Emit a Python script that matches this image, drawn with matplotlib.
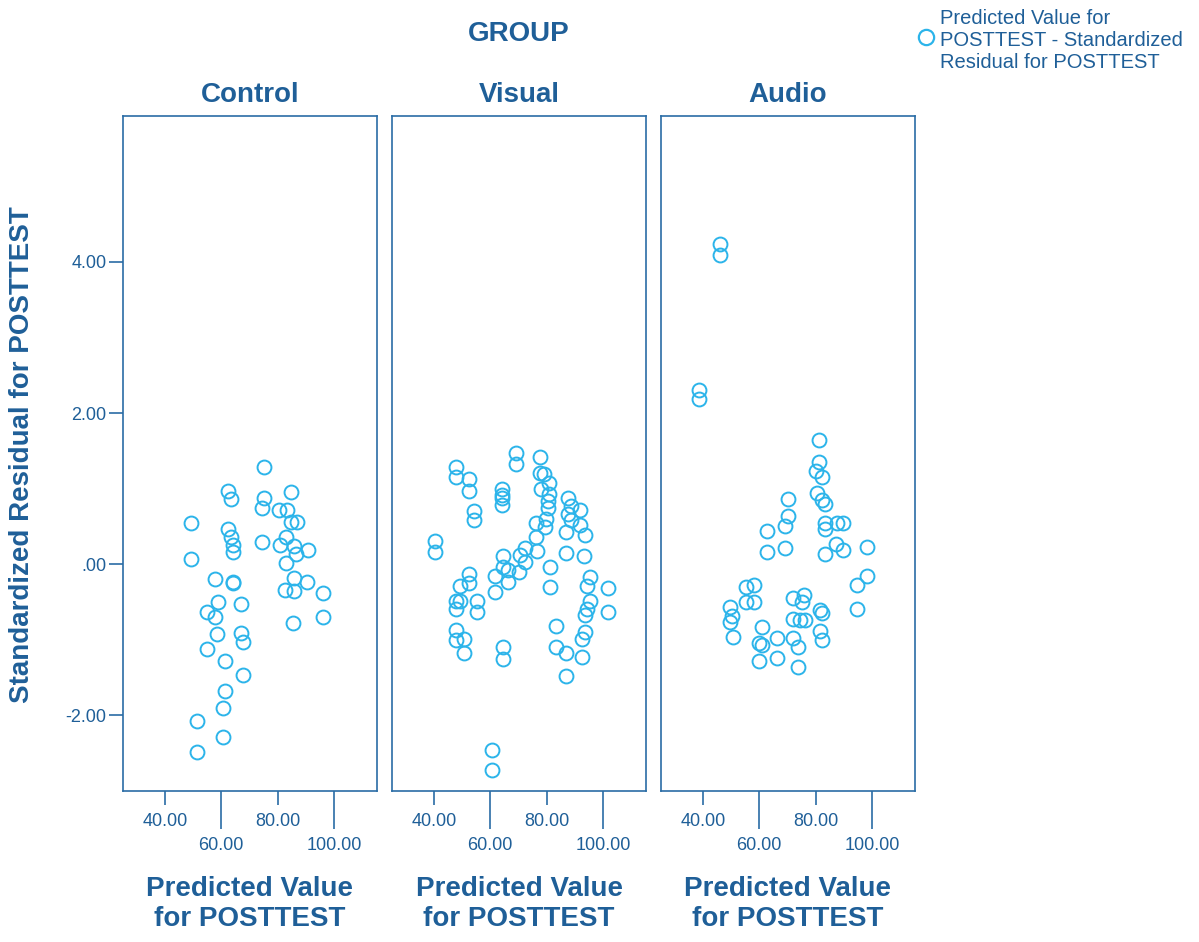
import matplotlib
matplotlib.use("Agg")
import matplotlib.pyplot as plt
from matplotlib.lines import Line2D

# predicted value / standardized residual pairs for each group
groups = ["Control", "Visual", "Audio"]

control_x = [75.2, 62.3, 63.4, 75.3, 74.3, 84.6, 80.6, 83.2, 84.6, 87.0,
             49.2, 62.3, 63.4, 64.3, 64.3, 74.3, 83.0, 80.8, 85.8, 86.7,
             90.7, 49.2, 82.9, 57.8, 64.3, 64.3, 85.8, 90.6, 82.6, 85.8,
             96.0, 58.7, 54.8, 57.9, 67.0, 96.0, 85.6, 58.6, 67.0, 67.8,
             54.8, 61.3, 67.8, 61.3, 60.5, 51.3, 60.5, 51.3]
control_y = [1.28, 0.97, 0.86, 0.87, 0.75, 0.95, 0.72, 0.72, 0.56, 0.56,
             0.55, 0.46, 0.36, 0.25, 0.16, 0.29, 0.36, 0.26, 0.24, 0.13,
             0.19, 0.07, 0.02, -0.20, -0.23, -0.25, -0.18, -0.23, -0.34, -0.36,
             -0.38, -0.50, -0.63, -0.70, -0.52, -0.70, -0.78, -0.92, -0.91, -1.03,
             -1.12, -1.28, -1.47, -1.68, -1.90, -2.08, -2.29, -2.49]

visual_x = [69.0, 69.0, 77.5, 77.5, 79.0, 80.9, 78.0, 80.7, 80.5, 80.5,
            79.9, 79.4, 76.4, 76.4, 76.7, 47.7, 47.7, 52.4, 52.4, 64.3,
            64.3, 64.3, 64.3, 54.2, 54.2, 87.6, 88.8, 92.0, 87.6, 88.8,
            92.0, 93.5, 86.8, 86.8, 93.3, 40.2, 40.2, 72.2, 70.4, 72.2,
            70.2, 64.5, 64.5, 66.3, 66.3, 61.6, 61.6, 81.3, 81.3, 52.3,
            52.3, 49.4, 47.7, 49.4, 47.7, 55.3, 55.3, 95.3, 94.5, 101.8,
            101.8, 95.3, 94.4, 93.5, 47.7, 47.7, 50.5, 50.5, 83.2, 83.2,
            86.8, 93.5, 92.7, 92.4, 64.5, 64.5, 86.8, 60.7, 60.7]
visual_y = [1.47, 1.33, 1.42, 1.21, 1.20, 1.08, 1.00, 0.93, 0.83, 0.75,
            0.60, 0.49, 0.54, 0.36, 0.17, 1.29, 1.15, 1.13, 0.97, 1.00,
            0.91, 0.87, 0.78, 0.71, 0.59, 0.87, 0.77, 0.72, 0.66, 0.59,
            0.52, 0.39, 0.42, 0.15, 0.11, 0.31, 0.16, 0.21, 0.12, 0.03,
            -0.10, 0.11, -0.04, -0.08, -0.23, -0.16, -0.37, -0.04, -0.30, -0.13,
            -0.25, -0.29, -0.48, -0.49, -0.59, -0.49, -0.63, -0.17, -0.29, -0.31,
            -0.63, -0.48, -0.59, -0.67, -0.87, -1.00, -0.99, -1.17, -0.82, -1.10,
            -1.18, -0.90, -0.99, -1.23, -1.10, -1.26, -1.48, -2.46, -2.72]

audio_x = [46.0, 46.0, 38.6, 38.6, 81.3, 81.3, 80.1, 82.4, 80.4, 82.4,
           83.4, 70.1, 70.1, 69.2, 62.6, 83.4, 83.4, 87.5, 89.9, 87.4,
           89.9, 98.1, 83.4, 69.2, 62.6, 98.1, 94.6, 94.6, 58.2, 55.3,
           55.3, 58.2, 49.6, 50.2, 49.6, 50.8, 72.1, 75.9, 75.1, 72.1,
           74.5, 76.3, 81.5, 82.4, 81.5, 82.4, 60.8, 60.0, 60.8, 66.4,
           72.1, 73.9, 60.0, 66.4, 73.9]
audio_y = [4.24, 4.09, 2.30, 2.19, 1.64, 1.35, 1.24, 1.15, 0.94, 0.85,
           0.80, 0.86, 0.64, 0.50, 0.44, 0.54, 0.47, 0.54, 0.54, 0.27,
           0.19, 0.23, 0.13, 0.21, 0.16, -0.15, -0.28, -0.59, -0.28, -0.30,
           -0.50, -0.50, -0.57, -0.68, -0.76, -0.96, -0.45, -0.41, -0.50, -0.73,
           -0.74, -0.74, -0.61, -0.64, -0.88, -1.00, -0.83, -1.04, -1.07, -0.98,
           -0.97, -1.10, -1.28, -1.24, -1.36]

xs = [control_x, visual_x, audio_x]
ys = [control_y, visual_y, audio_y]

x_major = [40, 80]
x_minor = [60, 100]
y_ticks = [4, 2, 0, -2]
y_ticklabels = ["4.00", "2.00", ".00", "-2.00"]

text_col = "#1f5f98"
frame_col = "#2a6ca5"
dot_col = "#2cb4ea"

plt.rcParams["font.family"] = ["Liberation Sans", "DejaVu Sans"]

W, H = 1199, 942
fig = plt.figure(figsize=(W / 100, H / 100), dpi=100)

lefts = [123, 392, 661]
pw, top, bot = 254, 116, 791

for i, name in enumerate(groups):
    ax = fig.add_axes([lefts[i] / W, 1 - bot / H, pw / W, (bot - top) / H])
    ax.plot(xs[i], ys[i], linestyle="none", marker="o", markersize=10,
            markerfacecolor="none", markeredgecolor=dot_col, markeredgewidth=1.4)
    ax.set_xlim(25.1, 115.3)
    ax.set_ylim(-3.0, 5.93)
    for sp in ax.spines.values():
        sp.set_color(frame_col)
        sp.set_linewidth(1.2)

    # alternating short/long ticks so the labels sit on two rows
    ax.set_xticks(x_major)
    ax.set_xticklabels(["%.2f" % v for v in x_major])
    ax.set_xticks(x_minor, minor=True)
    ax.set_xticklabels(["%.2f" % v for v in x_minor], minor=True)
    ax.tick_params(axis="x", which="major", length=10, width=1.2, color=frame_col,
                   labelcolor=text_col, labelsize=13, pad=6)
    ax.tick_params(axis="x", which="minor", length=27, width=1.2, color=frame_col,
                   labelcolor=text_col, labelsize=13, pad=6)

    if i == 0:
        ax.set_yticks(y_ticks)
        ax.set_yticklabels(y_ticklabels)
        ax.tick_params(axis="y", length=10, width=1.2, color=frame_col,
                       labelcolor=text_col, labelsize=13, pad=2)
    else:
        ax.set_yticks([])

    ax.text(0.5, 1 + 21 / (bot - top), name, transform=ax.transAxes,
            ha="center", va="center", fontsize=20, fontweight="bold", color=text_col)
    ax.text(0.5, -(904 - bot) / (bot - top), "Predicted Value\nfor POSTTEST",
            transform=ax.transAxes, ha="center", va="center", fontsize=20,
            fontweight="bold", color=text_col, linespacing=1.15)

fig.text(519 / W, 1 - 34 / H, "GROUP", ha="center", va="center",
         fontsize=20, fontweight="bold", color=text_col)
fig.text(22 / W, 1 - 455 / H, "Standardized Residual for POSTTEST", rotation=90,
         ha="center", va="center", fontsize=20, fontweight="bold", color=text_col)

# legend
fig.lines.append(Line2D([926 / W], [1 - 37 / H], transform=fig.transFigure,
                        linestyle="none", marker="o", markersize=11,
                        markerfacecolor="none", markeredgecolor=dot_col,
                        markeredgewidth=1.6))
fig.text(940 / W, 1 - 40 / H,
         "Predicted Value for\nPOSTTEST - Standardized\nResidual for POSTTEST",
         ha="left", va="center", fontsize=14.5, color=text_col, linespacing=1.2)

fig.savefig("out.png", dpi=100, facecolor="white")
